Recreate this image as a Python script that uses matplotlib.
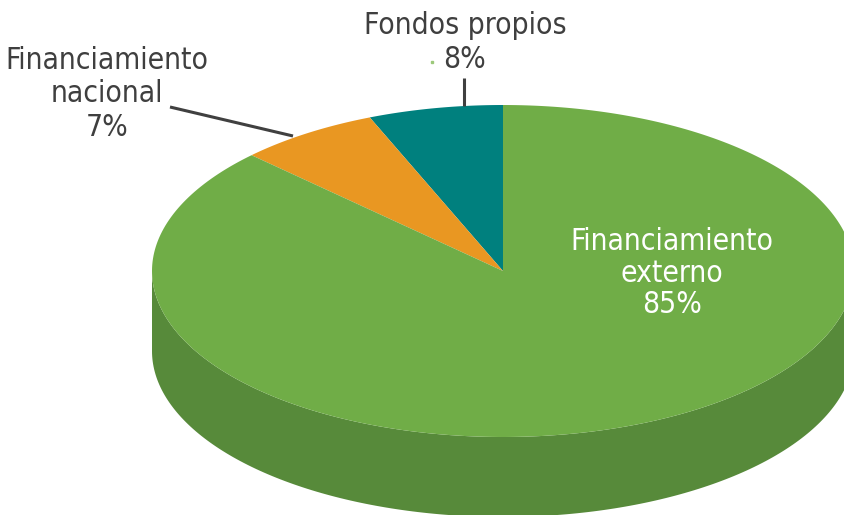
import numpy as np
import matplotlib
matplotlib.use("Agg")
import matplotlib.pyplot as plt
from matplotlib.patches import Polygon

# Data
categories = ["Fondos propios", "Financiamiento nacional", "Financiamiento externo"]
values = [8, 7, 85]
labels_pct = ["8%", "7%", "85%"]

top_colors = ["#00807E", "#E99722", "#70AD47"]
side_colors = ["#005A59", "#A86A14", "#578A3A"]

W, H = 845, 515
fig = plt.figure(figsize=(W / 100, H / 100), dpi=100)
ax = fig.add_axes([0, 0, 1, 1])
ax.set_xlim(0, W)
ax.set_ylim(H, 0)
ax.axis("off")

cx, cy = 503, 271
rx, ry = 351, 166
depth = 80
persp = 1.34  # angular foreshortening of the 3-D view


def proj_angle(phi):
    return np.arctan2(persp * np.sin(phi), np.cos(phi))


def pt(t, dy=0.0):
    return cx + rx * np.cos(t), cy - ry * np.sin(t) + dy


frac = np.cumsum([0] + values) / sum(values)
phis = np.pi / 2 + 2 * np.pi * frac
ts = np.unwrap(proj_angle(phis))
for i in range(1, len(ts)):
    while ts[i] < ts[i - 1]:
        ts[i] += 2 * np.pi

for i in range(len(values)):
    a, b = ts[i], ts[i + 1]
    for k in range(-1, 3):
        lo = max(a, np.pi + 2 * np.pi * k)
        hi = min(b, 2 * np.pi + 2 * np.pi * k)
        if hi > lo:
            tt = np.linspace(lo, hi, 200)
            upper = [pt(t) for t in tt]
            lower = [pt(t, depth) for t in tt[::-1]]
            ax.add_patch(Polygon(upper + lower, closed=True,
                                 facecolor=side_colors[i], edgecolor="none"))

for i in range(len(values)):
    tt = np.linspace(ts[i], ts[i + 1], 300)
    verts = [(cx, cy)] + [pt(t) for t in tt]
    ax.add_patch(Polygon(verts, closed=True, facecolor=top_colors[i],
                         edgecolor="none", antialiased=True))

font = ["DejaVu Sans"]
stretch = "condensed"
txt_color = "#3F3F3F"
fs = 21.5

ax.text(465, 25, categories[0], ha="center", va="center", fontsize=fs,
        color=txt_color, family=font, fontstretch=stretch)
ax.text(465, 60, labels_pct[0], ha="center", va="center", fontsize=fs,
        color=txt_color, family=font, fontstretch=stretch)
ax.plot([432], [62], marker="s", markersize=1.5, color="#9CC97A", linestyle="none")
ax.plot([464, 464], [78, 106], color="#404040", lw=2.2, solid_capstyle="butt")

ax.text(107, 94, "Financiamiento\nnacional\n" + labels_pct[1], ha="center",
        va="center", fontsize=fs, color=txt_color, family=font,
        linespacing=1.2, fontstretch=stretch)
ax.plot([170, 293], [107, 136], color="#404040", lw=2.2, solid_capstyle="butt")

ax.text(672, 273, "Financiamiento\nexterno\n" + labels_pct[2], ha="center",
        va="center", fontsize=fs, color="white", family=font,
        linespacing=1.12, fontstretch=stretch)

fig.savefig("out.png", dpi=100, facecolor="white")
